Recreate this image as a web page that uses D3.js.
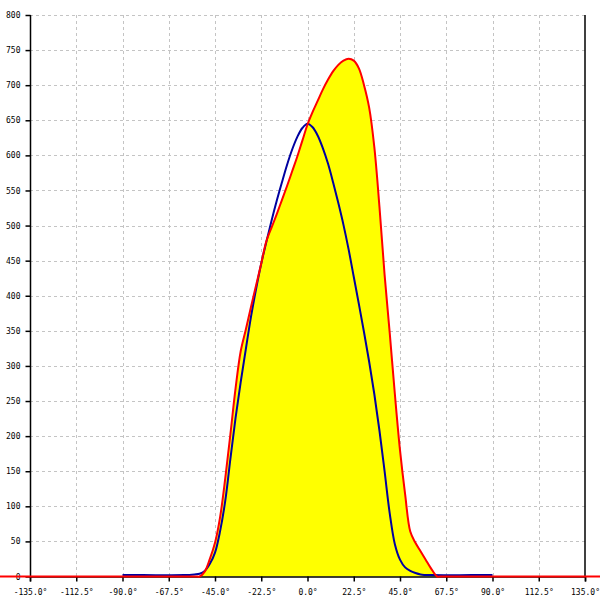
<!DOCTYPE html>
<html><head><meta charset="utf-8">
<script src="https://cdn.jsdelivr.net/npm/d3@7"></script>
<style>html,body{margin:0;padding:0;background:#fff;}</style>
</head><body>
<svg id="c" width="600" height="600"></svg>
<script>
const xTicks = [-135, -112.5, -90, -67.5, -45, -22.5, 0, 22.5, 45, 67.5, 90, 112.5, 135];
const yTicks = [0, 50, 100, 150, 200, 250, 300, 350, 400, 450, 500, 550, 600, 650, 700, 750, 800];

const redAngles = [-150, -140, -60, -56, -54, -52.5, -50, -47.5, -45, -42.5, -40, -37.5, -35, -32.5, -30, -27.5, -25, -22.5, -20, -17.5, -15, -12.5, -10, -7.5, -5, -2.5, 0, 2.5, 5, 7.5, 10, 12.5, 15, 17.5, 20, 22.5, 25, 27.5, 30, 32.5, 35, 37.5, 40, 42.5, 45, 47.5, 50, 52.5, 55, 57.5, 60, 63, 64.5, 66, 70, 140, 150];
const redValues = [0, 0, 0, 0, 0, 0, 7, 25, 48, 85, 140, 203, 268, 321, 352, 384, 415, 446, 478, 497, 516, 536, 556, 577, 598, 621, 644, 662, 678, 694, 708, 720, 729, 735, 737.5, 735, 724, 700, 668, 612, 527, 430, 347, 260, 180, 117, 64, 48, 36, 24, 12, 0, 0, 0, 0, 0, 0];

const blueAngles = [-90, -80, -60, -55, -52.5, -50, -47.5, -45, -42.5, -40, -37.5, -35, -32.5, -30, -27.5, -25, -22.5, -20, -17.5, -15, -12.5, -10, -7.5, -5, -2.5, 0, 2.5, 5, 7.5, 10, 12.5, 15, 17.5, 20, 22.5, 25, 27.5, 30, 32.5, 35, 37.5, 40, 42.5, 45, 47.5, 50, 52.5, 55, 60, 80, 90];
const blueValues = [2, 2, 2, 3, 4, 8, 18, 34, 65, 108, 168, 226, 277, 324, 370, 410, 446, 477, 507, 535, 561, 586, 608, 626, 639, 645, 640, 628, 610, 588, 561, 532, 501, 466, 427, 388, 348, 306, 260, 208, 150, 90, 46, 24, 13, 8, 5, 3, 2, 2, 2];

const svg = d3.select('#c');
const x = d3.scaleLinear().domain([-135, 135]).range([30, 585]);
const y = d3.scaleLinear().domain([0, 800]).range([576.5, 15]);

const red = redAngles.map((a, i) => [a, redValues[i]]);
const blue = blueAngles.map((a, i) => [a, blueValues[i]]);

// grid
const grid = svg.append('g').attr('stroke', '#c4c4c4').attr('stroke-dasharray', '3,3').attr('stroke-width', 1);
yTicks.filter(v => v > 0).forEach(v => {
  grid.append('line').attr('x1', x(-135)).attr('x2', x(135)).attr('y1', Math.round(y(v)) + 0.5).attr('y2', Math.round(y(v)) + 0.5);
});
xTicks.filter(v => v > -135 && v < 135).forEach(v => {
  grid.append('line').attr('y1', y(800)).attr('y2', y(0)).attr('x1', Math.round(x(v)) + 0.5).attr('x2', Math.round(x(v)) + 0.5);
});

const curve = d3.curveCatmullRom.alpha(0.5);

// area
const area = d3.area().x(d => x(d[0])).y0(y(0)).y1(d => y(d[1])).curve(curve);
svg.append('path').datum(red).attr('d', area).attr('fill', '#ffff00');

// axes
const font = 'DejaVu Sans Mono';
const yAxis = d3.axisLeft(y).tickValues(yTicks).tickSize(5).tickFormat(d => d);
const gy = svg.append('g').attr('transform', 'translate(30.5,0)').call(yAxis);
const xAxis = d3.axisBottom(x).tickValues(xTicks).tickSize(5).tickFormat(d => d.toFixed(1) + '°');
const gx = svg.append('g').attr('transform', `translate(0,${y(0)})`).call(xAxis);
[gy, gx].forEach(g => {
  g.selectAll('path,line').attr('stroke', '#000').attr('stroke-width', 1.5);
  g.selectAll('text').attr('font-family', font).attr('font-size', 8).attr('fill', '#000');
});
gy.select('.domain').attr('d', `M0,${y(800)}V${y(0)}`);
gy.selectAll('text').attr('x', -10);
gx.selectAll('text').attr('dy', '1.3em');
svg.append('line').attr('x1', x(135)).attr('x2', x(135)).attr('y1', y(800)).attr('y2', y(0)).attr('stroke', '#000').attr('stroke-width', 1.5);

// lines
const line = d3.line().x(d => x(d[0])).y(d => y(d[1])).curve(curve);
svg.append('path').datum(blue).attr('d', line).attr('fill', 'none').attr('stroke', '#0000a0').attr('stroke-width', 2);
svg.append('path').datum(red).attr('d', line).attr('fill', 'none').attr('stroke', '#ff0000').attr('stroke-width', 2);
</script>
</body></html>
